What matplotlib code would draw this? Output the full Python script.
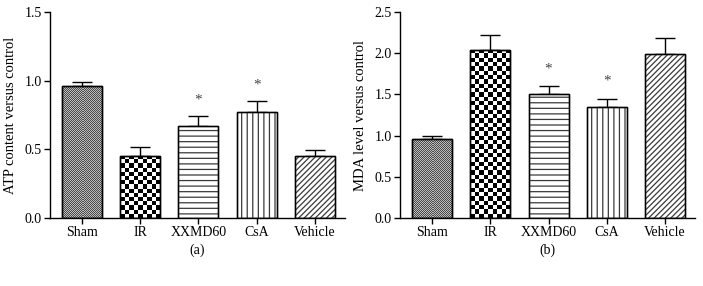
import numpy as np
import matplotlib
matplotlib.use("Agg")
import matplotlib.pyplot as plt
from matplotlib.colors import ListedColormap

plt.rcParams['font.family'] = ['Liberation Serif', 'DejaVu Serif']
plt.rcParams['hatch.linewidth'] = 0.9

categories = ["Sham", "IR", "XXMD60", "CsA", "Vehicle"]
atp_values = [0.96, 0.455, 0.673, 0.772, 0.448]
atp_errors = [0.034, 0.065, 0.067, 0.082, 0.048]
atp_star = [None, None, 0.86, 0.97, None]
mda_values = [0.956, 2.044, 1.50, 1.35, 1.996]
mda_errors = [0.044, 0.174, 0.105, 0.09, 0.189]
mda_star = [None, None, 1.81, 1.66, None]
atp_ticks = [0.0, 0.5, 1.0, 1.5]
mda_ticks = [0.0, 0.5, 1.0, 1.5, 2.0, 2.5]

fig = plt.figure(figsize=(7.03, 2.86), dpi=100)
ax1 = fig.add_axes([0.0711, 0.2378, 0.42, 0.72])
ax2 = fig.add_axes([0.569, 0.2378, 0.42, 0.72])

styles = [("checker", 1.0, '#4a4a4a', '#bcbcbc'),
          ("checker", 4.3, 'black', 'white'),
          ("hatch", '---'),
          ("hatch", '|||'),
          ("hatch", '//////')]


def checker_fill(ax, bar, cell_px, c1, c2):
    x0, y0 = bar.get_x(), bar.get_y()
    w, h = bar.get_width(), bar.get_height()
    p0 = ax.transData.transform((x0, y0))
    p1 = ax.transData.transform((x0 + w, y0 + h))
    nx = max(1, int(round((p1[0] - p0[0]) / cell_px)))
    ny = max(1, int(round((p1[1] - p0[1]) / cell_px)))
    arr = np.add.outer(np.arange(ny), np.arange(nx)) % 2
    im = ax.imshow(arr, extent=(x0, x0 + w, y0, y0 + h), origin='lower',
                   cmap=ListedColormap([c1, c2]), interpolation='nearest',
                   aspect='auto', zorder=1.5)
    im.set_clip_path(bar)


def panel(ax, values, errors, stars, ticks, ylabel, sub):
    x = np.arange(len(categories))
    ax.set_xlim(-0.55, 4.52)
    ax.set_ylim(0, ticks[-1])
    bars = ax.bar(x, values, width=0.687, facecolor='white', edgecolor='black',
                  linewidth=1.0, zorder=2)
    for b, st in zip(bars, styles):
        if st[0] == 'hatch':
            b.set_hatch(st[1])
            b.set_edgecolor('#3a3a3a')
    ax.bar(x, values, width=0.687, facecolor='none', edgecolor='black',
           linewidth=1.0, zorder=3)
    for b, st in zip(bars, styles):
        if st[0] == 'checker':
            b.set_facecolor('none')
            checker_fill(ax, b, st[1], st[2], st[3])
    ax.errorbar(x, values, yerr=[np.zeros(len(values)), errors], fmt='none',
                ecolor='black', elinewidth=1.0, capsize=7.5, capthick=1.0, zorder=1)
    for xi, s in zip(x, stars):
        if s is not None:
            ax.text(xi, s, '*', ha='center', va='center', fontsize=11, color='#444444')
    ax.set_xlim(-0.55, 4.52)
    ax.set_ylim(0, ticks[-1])
    ax.set_yticks(ticks)
    ax.set_yticklabels([f"{t:.1f}" for t in ticks])
    ax.set_xticks(x)
    ax.set_xticklabels(categories)
    ax.spines['top'].set_visible(False)
    ax.spines['right'].set_visible(False)
    ax.spines['left'].set_linewidth(1.0)
    ax.spines['bottom'].set_linewidth(1.0)
    ax.tick_params(direction='out', length=4, width=1.0, labelsize=10, pad=2)
    ax.set_ylabel(ylabel, fontsize=10.5, labelpad=5)
    ax.text(0.5, -0.155, sub, transform=ax.transAxes, ha='center', va='center', fontsize=10)


panel(ax1, atp_values, atp_errors, atp_star, atp_ticks, "ATP content versus control", "(a)")
panel(ax2, mda_values, mda_errors, mda_star, mda_ticks, "MDA level versus control", "(b)")

fig.savefig("out.png", dpi=100)
